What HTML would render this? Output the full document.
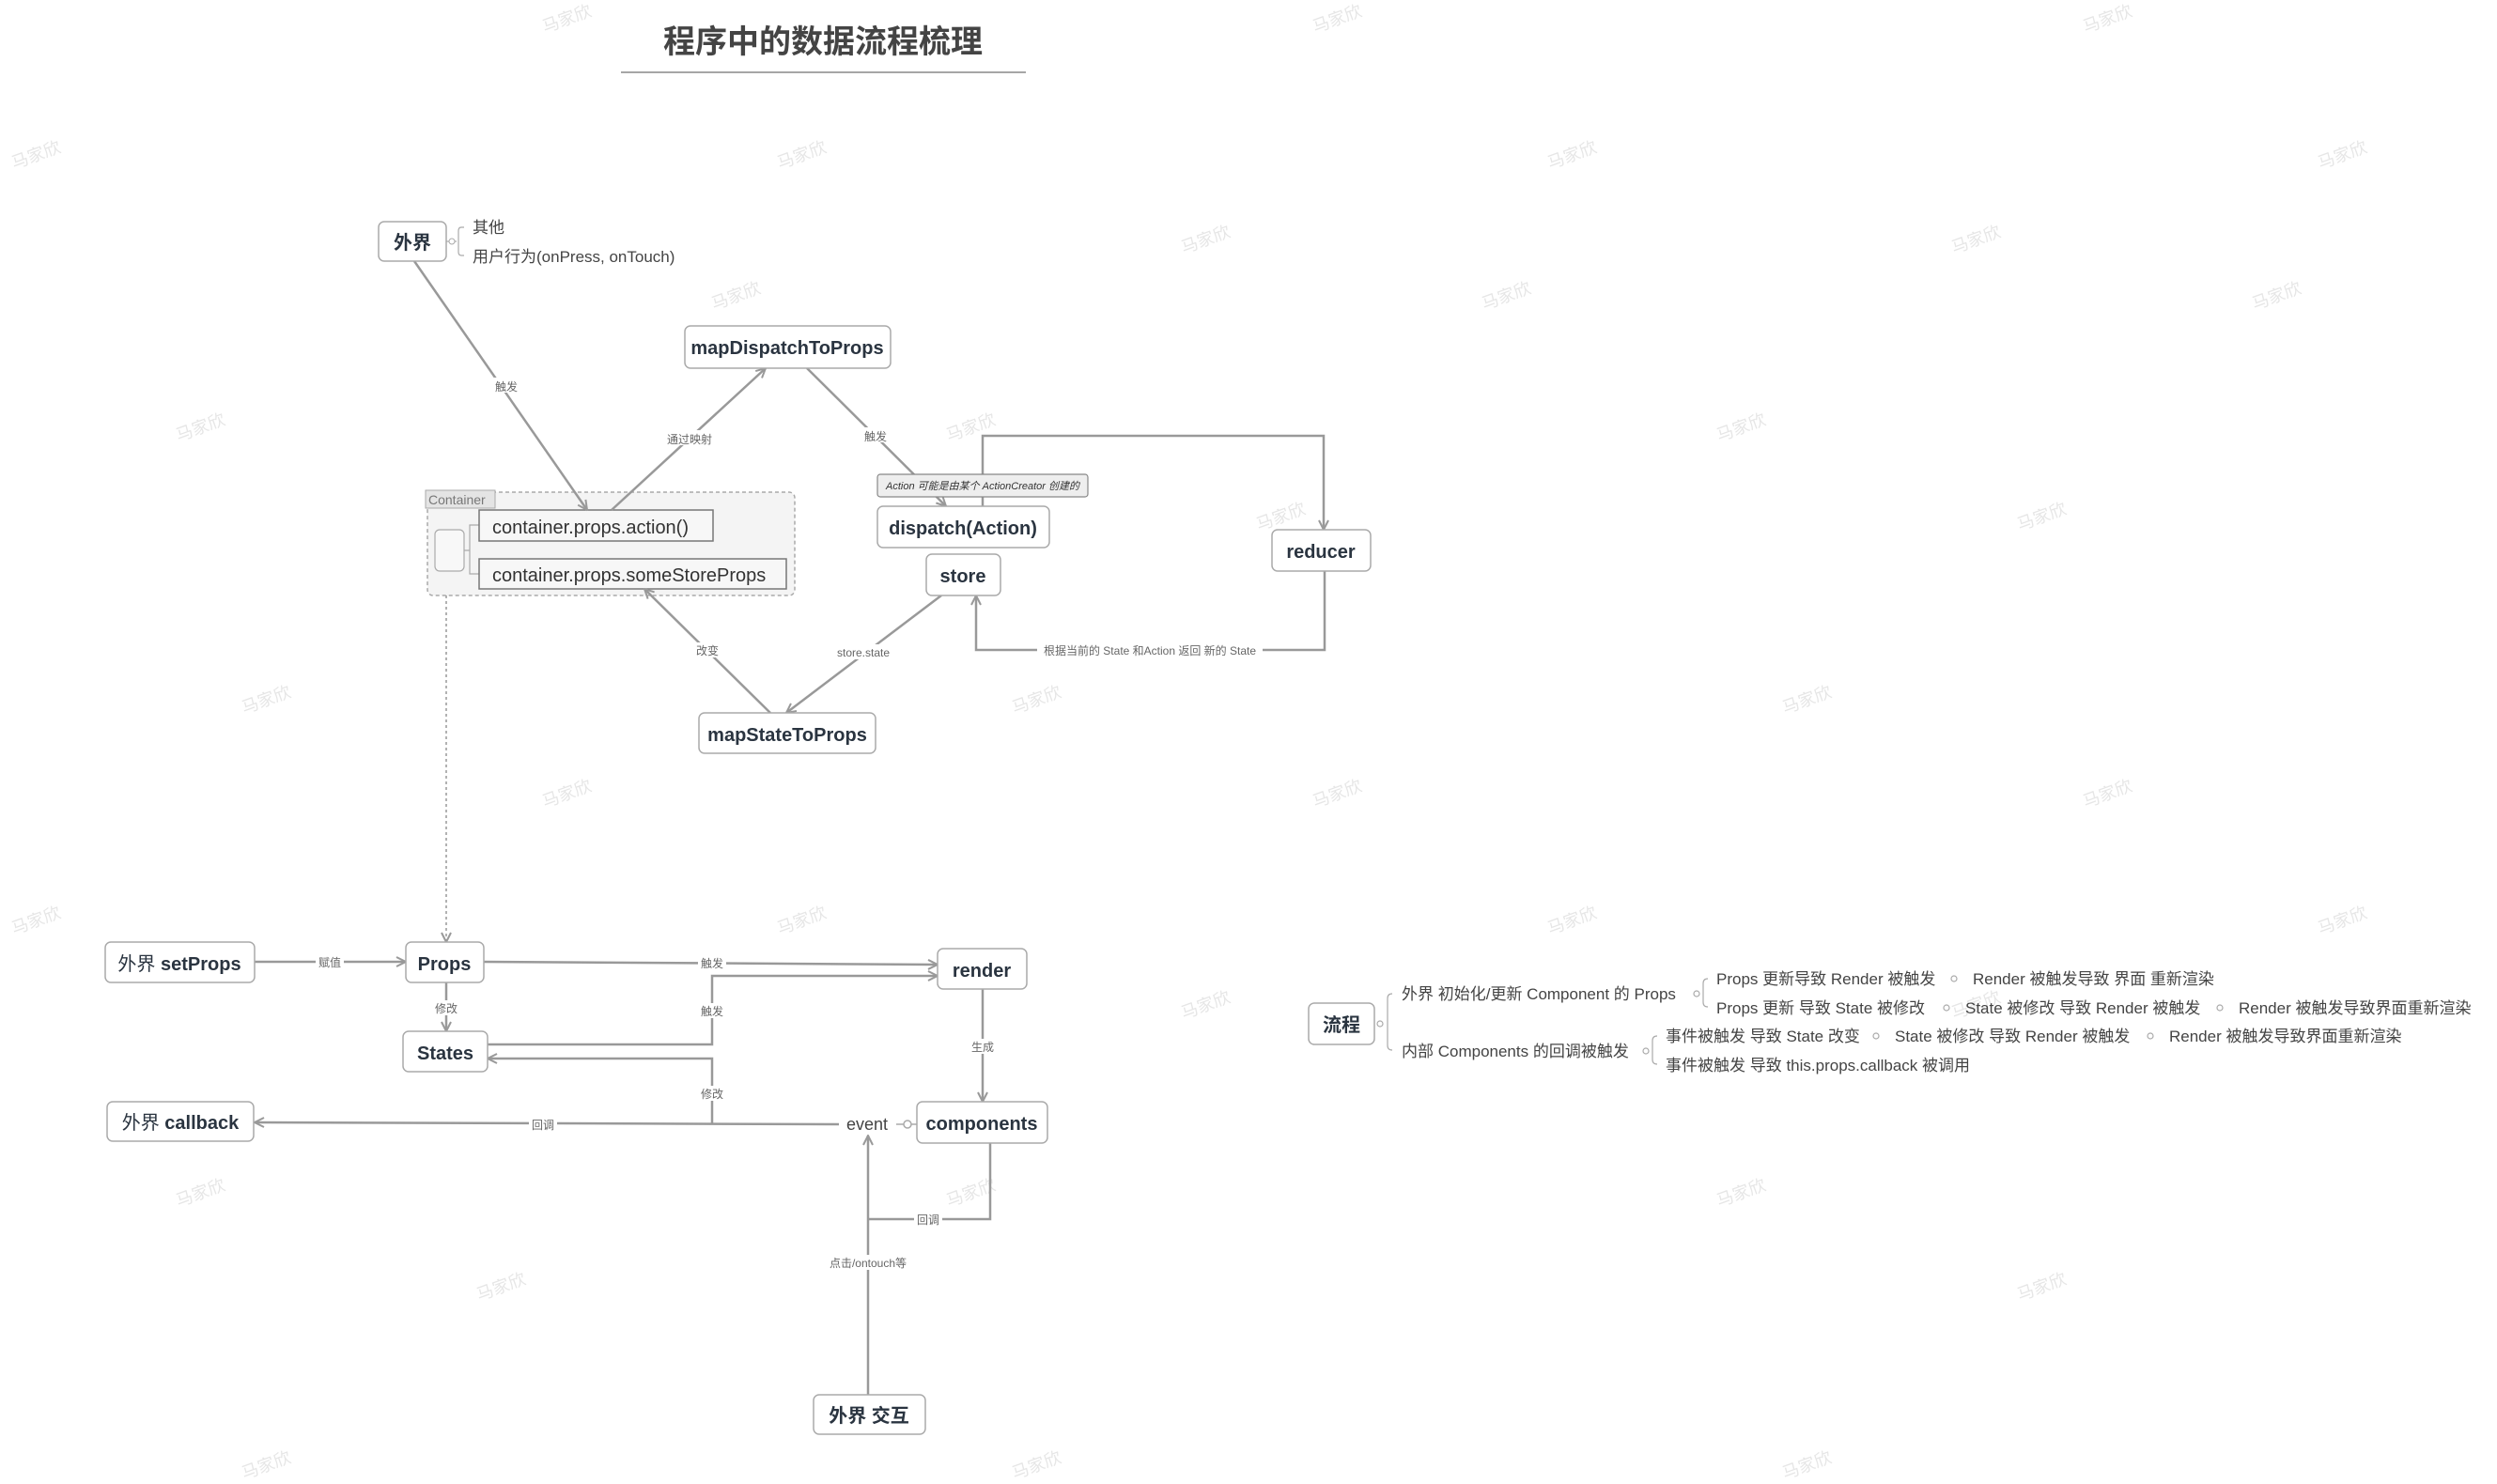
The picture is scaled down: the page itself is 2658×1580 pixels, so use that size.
<!DOCTYPE html>
<html><head><meta charset="utf-8"><style>
html,body{margin:0;padding:0;background:#fff;}
svg{display:block;}
text{font-family:"Liberation Sans","Noto Sans CJK SC",sans-serif;}
.n{font-weight:bold;font-size:20px;fill:#2a3440;text-anchor:middle;}
.l{font-size:12px;fill:#666;text-anchor:middle;}
.t{font-size:17px;fill:#444;}
.w{font-size:18px;fill:#e6e6e6;}
</style></head><body>
<svg width="2658" height="1580" viewBox="0 0 2658 1580" xmlns="http://www.w3.org/2000/svg">
<defs>
<marker id="a" viewBox="0 0 12 12" refX="11" refY="6" markerWidth="12" markerHeight="12" markerUnits="userSpaceOnUse" orient="auto">
<path d="M1,1 L11,6 L1,11" fill="none" stroke="#999" stroke-width="2"/></marker>
</defs>
<g class="w">
<text x="580" y="35" transform="rotate(-20 580 35)">马家欣</text>
<text x="1400" y="35" transform="rotate(-20 1400 35)">马家欣</text>
<text x="2220" y="35" transform="rotate(-20 2220 35)">马家欣</text>
<text x="15" y="180" transform="rotate(-20 15 180)">马家欣</text>
<text x="830" y="180" transform="rotate(-20 830 180)">马家欣</text>
<text x="1650" y="180" transform="rotate(-20 1650 180)">马家欣</text>
<text x="2470" y="180" transform="rotate(-20 2470 180)">马家欣</text>
<text x="1260" y="270" transform="rotate(-20 1260 270)">马家欣</text>
<text x="2080" y="270" transform="rotate(-20 2080 270)">马家欣</text>
<text x="760" y="330" transform="rotate(-20 760 330)">马家欣</text>
<text x="1580" y="330" transform="rotate(-20 1580 330)">马家欣</text>
<text x="2400" y="330" transform="rotate(-20 2400 330)">马家欣</text>
<text x="190" y="470" transform="rotate(-20 190 470)">马家欣</text>
<text x="1010" y="470" transform="rotate(-20 1010 470)">马家欣</text>
<text x="1830" y="470" transform="rotate(-20 1830 470)">马家欣</text>
<text x="1340" y="565" transform="rotate(-20 1340 565)">马家欣</text>
<text x="2150" y="565" transform="rotate(-20 2150 565)">马家欣</text>
<text x="260" y="760" transform="rotate(-20 260 760)">马家欣</text>
<text x="1080" y="760" transform="rotate(-20 1080 760)">马家欣</text>
<text x="1900" y="760" transform="rotate(-20 1900 760)">马家欣</text>
<text x="580" y="860" transform="rotate(-20 580 860)">马家欣</text>
<text x="1400" y="860" transform="rotate(-20 1400 860)">马家欣</text>
<text x="2220" y="860" transform="rotate(-20 2220 860)">马家欣</text>
<text x="15" y="995" transform="rotate(-20 15 995)">马家欣</text>
<text x="830" y="995" transform="rotate(-20 830 995)">马家欣</text>
<text x="1650" y="995" transform="rotate(-20 1650 995)">马家欣</text>
<text x="2470" y="995" transform="rotate(-20 2470 995)">马家欣</text>
<text x="1260" y="1085" transform="rotate(-20 1260 1085)">马家欣</text>
<text x="2080" y="1085" transform="rotate(-20 2080 1085)">马家欣</text>
<text x="190" y="1285" transform="rotate(-20 190 1285)">马家欣</text>
<text x="1010" y="1285" transform="rotate(-20 1010 1285)">马家欣</text>
<text x="1830" y="1285" transform="rotate(-20 1830 1285)">马家欣</text>
<text x="510" y="1385" transform="rotate(-20 510 1385)">马家欣</text>
<text x="2150" y="1385" transform="rotate(-20 2150 1385)">马家欣</text>
<text x="260" y="1575" transform="rotate(-20 260 1575)">马家欣</text>
<text x="1080" y="1575" transform="rotate(-20 1080 1575)">马家欣</text>
<text x="1900" y="1575" transform="rotate(-20 1900 1575)">马家欣</text>
</g>

<text x="876" y="56" font-size="34" font-weight="bold" fill="#444" text-anchor="middle">程序中的数据流程梳理</text>
<line x1="661" y1="77" x2="1092" y2="77" stroke="#888" stroke-width="1.5"/>

<rect x="455" y="524" width="391" height="110" rx="6" fill="#f4f4f4" stroke="#aaa" stroke-width="1.5" stroke-dasharray="4 3"/>
<rect x="453" y="522" width="74" height="19" fill="#e4e4e4" stroke="#aaa" stroke-width="1"/>
<text x="456" y="537" font-size="14" fill="#777">Container</text>
<rect x="463" y="564" width="31" height="44" rx="5" fill="#f8f8f8" stroke="#aaa" stroke-width="1.2"/>
<path d="M494,586 h6 v-27 h10 M500,586 v25 h10" fill="none" stroke="#aaa" stroke-width="1.2"/>
<rect x="510" y="543" width="249" height="33" fill="#f7f7f7" stroke="#777" stroke-width="1.5"/>
<text x="524" y="568" font-size="20" fill="#333">container.props.action()</text>
<rect x="510" y="595" width="327" height="32" fill="#f7f7f7" stroke="#777" stroke-width="1.5"/>
<text x="524" y="619" font-size="20" fill="#333">container.props.someStoreProps</text>

<g fill="none" stroke="#999" stroke-width="2.5">
<line x1="441" y1="278" x2="625" y2="543" marker-end="url(#a)"/>
<line x1="651" y1="543" x2="815" y2="392" marker-end="url(#a)"/>
<line x1="859" y1="392" x2="1007" y2="539" marker-end="url(#a)"/>
<line x1="1002" y1="634" x2="837" y2="759" marker-end="url(#a)"/>
<line x1="820" y1="759" x2="686" y2="627" marker-end="url(#a)"/>
<polyline points="1046,539 1046,464 1409,464 1409,564" marker-end="url(#a)"/>
<polyline points="1410,608 1410,692 1039,692 1039,634" marker-end="url(#a)"/>
<line x1="475" y1="634" x2="475" y2="1003" stroke-dasharray="3 3" stroke-width="1.5" marker-end="url(#a)"/>
<line x1="271" y1="1024" x2="432" y2="1024" marker-end="url(#a)"/>
<line x1="515" y1="1024" x2="998" y2="1027" marker-end="url(#a)"/>
<polyline points="519,1112 758,1112 758,1039 998,1039" marker-end="url(#a)"/>
<polyline points="758,1197 758,1127 519,1127" marker-end="url(#a)"/>
<line x1="893" y1="1197" x2="271" y2="1195" marker-end="url(#a)"/>
<line x1="475" y1="1046" x2="475" y2="1098" marker-end="url(#a)"/>
<line x1="1046" y1="1053" x2="1046" y2="1173" marker-end="url(#a)"/>
<polyline points="1054,1217 1054,1298 924,1298"/>
<line x1="924" y1="1485" x2="924" y2="1209" marker-end="url(#a)"/>
</g>
<line x1="954" y1="1197" x2="976" y2="1197" stroke="#aaa" stroke-width="1.5"/>
<circle cx="966" cy="1197" r="4" fill="#fff" stroke="#aaa" stroke-width="1.5"/>

<g class="l">
<rect x="524" y="402" width="30" height="16" fill="#fff"/><text x="539" y="416">触发</text>
<rect x="706" y="458" width="56" height="16" fill="#fff"/><text x="734" y="472">通过映射</text>
<rect x="917" y="455" width="30" height="16" fill="#fff"/><text x="932" y="469">触发</text>
<rect x="885" y="686" width="68" height="16" fill="#fff"/><text x="919" y="699">store.state</text>
<rect x="738" y="684" width="30" height="16" fill="#fff"/><text x="753" y="697">改变</text>
<rect x="1104" y="684" width="240" height="16" fill="#fff"/><text x="1224" y="697">根据当前的 State 和Action 返回 新的 State</text>
<rect x="336" y="1016" width="30" height="16" fill="#fff"/><text x="351" y="1029">赋值</text>
<rect x="743" y="1017" width="30" height="16" fill="#fff"/><text x="758" y="1030">触发</text>
<rect x="743" y="1068" width="30" height="16" fill="#fff"/><text x="758" y="1081">触发</text>
<rect x="460" y="1065" width="30" height="16" fill="#fff"/><text x="475" y="1078">修改</text>
<rect x="743" y="1156" width="30" height="16" fill="#fff"/><text x="758" y="1169">修改</text>
<rect x="563" y="1189" width="30" height="16" fill="#fff"/><text x="578" y="1202">回调</text>
<rect x="1031" y="1106" width="30" height="16" fill="#fff"/><text x="1046" y="1119">生成</text>
<rect x="973" y="1290" width="30" height="16" fill="#fff"/><text x="988" y="1303">回调</text>
<rect x="876" y="1336" width="96" height="16" fill="#fff"/><text x="924" y="1349">点击/ontouch等</text>
</g>

<rect x="934" y="505" width="224" height="24" rx="3" fill="#eee" stroke="#888" stroke-width="1.2"/>
<text x="1046" y="521" font-size="11" font-style="italic" fill="#333" text-anchor="middle">Action 可能是由某个 ActionCreator 创建的</text>

<g fill="#fff" stroke="#aaa" stroke-width="1.5">
<rect x="403" y="236" width="72" height="42" rx="6"/>
<rect x="729" y="347" width="219" height="45" rx="6"/>
<rect x="934" y="539" width="183" height="44" rx="6"/>
<rect x="986" y="590" width="79" height="44" rx="6"/>
<rect x="1354" y="564" width="105" height="44" rx="6"/>
<rect x="744" y="759" width="188" height="43" rx="6"/>
<rect x="112" y="1003" width="159" height="43" rx="6"/>
<rect x="432" y="1003" width="83" height="43" rx="6"/>
<rect x="998" y="1010" width="95" height="43" rx="6"/>
<rect x="429" y="1098" width="90" height="43" rx="6"/>
<rect x="114" y="1173" width="156" height="42" rx="6"/>
<rect x="976" y="1173" width="139" height="44" rx="6"/>
<rect x="866" y="1485" width="119" height="42" rx="6"/>
<rect x="1393" y="1068" width="70" height="44" rx="6"/>
</g>
<text x="439" y="265" class="n" font-weight="normal">外界</text>
<text x="838" y="377" class="n">mapDispatchToProps</text>
<text x="1025" y="569" class="n">dispatch(Action)</text>
<text x="1025" y="620" class="n">store</text>
<text x="1406" y="594" class="n">reducer</text>
<text x="838" y="789" class="n">mapStateToProps</text>
<text x="191" y="1033" class="n"><tspan font-weight="normal">外界 </tspan>setProps</text>
<text x="473" y="1033" class="n">Props</text>
<text x="1045" y="1040" class="n">render</text>
<text x="474" y="1128" class="n">States</text>
<text x="192" y="1202" class="n"><tspan font-weight="normal">外界 </tspan>callback</text>
<text x="1045" y="1203" class="n">components</text>
<text x="925" y="1514" class="n" font-weight="normal">外界 交互</text>
<text x="1428" y="1098" class="n" font-weight="normal">流程</text>
<text x="923" y="1203" font-size="18" fill="#444" text-anchor="middle">event</text>

<g fill="none" stroke="#aaa" stroke-width="1.2">
<line x1="475" y1="257" x2="486" y2="257"/>
<path d="M494,242 h-3 q-3,0 -3,4 v22 q0,4 3,4 h3"/>
</g>
<circle cx="481" cy="257" r="3" fill="#fff" stroke="#aaa"/>
<text x="503" y="248" class="t">其他</text>
<text x="503" y="279" class="t">用户行为(onPress, onTouch)</text>

<g fill="none" stroke="#aaa" stroke-width="1.2">
<path d="M1482,1058 q-5,0 -5,5 v50 q0,5 5,5"/>
<path d="M1818,1042 q-5,0 -5,5 v20 q0,5 5,5"/>
<path d="M1764,1103 q-5,0 -5,5 v20 q0,5 5,5"/>
</g>
<g fill="#fff" stroke="#aaa" stroke-width="1.2">
<circle cx="1469" cy="1090" r="3"/><circle cx="1806" cy="1058" r="3"/><circle cx="1752" cy="1119" r="3"/>
<circle cx="2080" cy="1042" r="3"/><circle cx="2072" cy="1073" r="3"/><circle cx="2363" cy="1073" r="3"/>
<circle cx="1997" cy="1103" r="3"/><circle cx="2289" cy="1103" r="3"/>
</g>
<g class="t">
<text x="1492" y="1064">外界 初始化/更新 Component 的 Props</text>
<text x="1492" y="1125">内部 Components 的回调被触发</text>
<text x="1827" y="1048">Props 更新导致 Render 被触发</text>
<text x="2100" y="1048">Render 被触发导致 界面 重新渲染</text>
<text x="1827" y="1079">Props 更新 导致 State 被修改</text>
<text x="2092" y="1079">State 被修改 导致 Render 被触发</text>
<text x="2383" y="1079">Render 被触发导致界面重新渲染</text>
<text x="1773" y="1109">事件被触发 导致 State 改变</text>
<text x="2017" y="1109">State 被修改 导致 Render 被触发</text>
<text x="2309" y="1109">Render 被触发导致界面重新渲染</text>
<text x="1773" y="1140">事件被触发 导致 this.props.callback 被调用</text>
</g>
</svg>
</body></html>
